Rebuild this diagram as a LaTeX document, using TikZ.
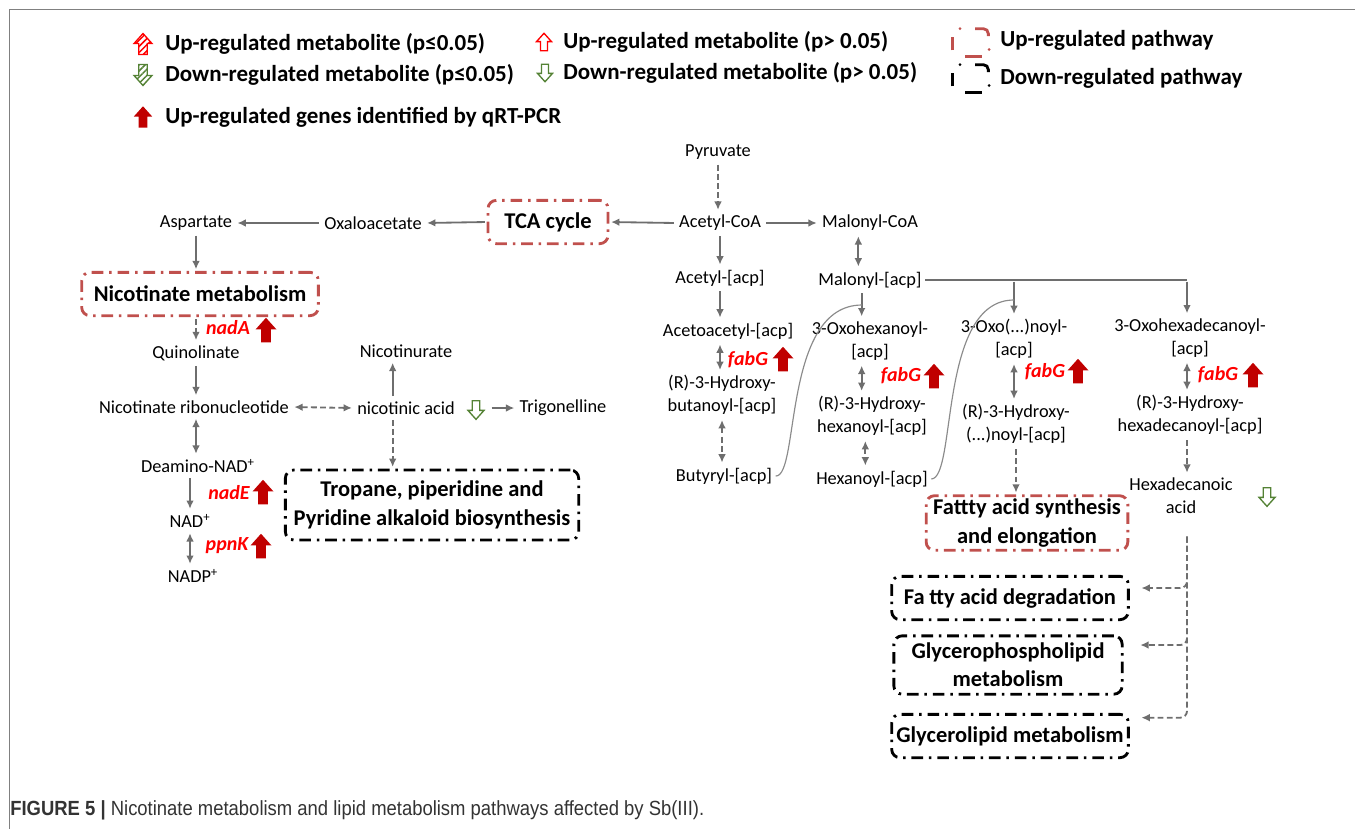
\documentclass[tikz,border=0pt]{standalone}
\usepackage{fontspec}
\setmainfont{Carlito}
\newfontfamily\capfont[FakeStretch=0.9]{Liberation Sans}
\usepackage{tikz}
\usetikzlibrary{arrows.meta,patterns.meta}
\definecolor{pathred}  {HTML}{C0504D}
\definecolor{genered}  {HTML}{C00000}
\definecolor{upred}    {HTML}{FF0000}
\definecolor{downgreen}{HTML}{548235}
\definecolor{arrgray}  {HTML}{6E6E6E}
\definecolor{capgray}  {HTML}{333333}
\tikzset{ % Styles for the pathway map
met/.style={font=\fontsize{11}{13.8}\selectfont, inner sep=2pt, align=center},
legtext/.style={anchor=west, font=\bfseries\fontsize{13.8}{16}\selectfont, inner sep=0pt},
upbox/.style={draw=pathred, line width=1.7pt, dash pattern=on 7pt off 3.5pt on 1.5pt off 3.5pt, rounded corners=5pt, font=\bfseries\fontsize{13.5}{17}\selectfont, align=center, inner sep=2pt},
downbox/.style={upbox, draw=black},
conn/.style={draw=arrgray, line width=1.1pt, -{Latex[length=5pt,width=4.6pt]}, shorten <=1pt, shorten >=1pt},
dconn/.style={conn, dash pattern=on 3.5pt off 2pt},
biconn/.style={conn, {Latex[length=5pt,width=4.6pt]}-{Latex[length=5pt,width=4.6pt]}},
dbiconn/.style={biconn, dash pattern=on 3.5pt off 2pt},
branch/.style={draw=arrgray, line width=1.1pt},
curve/.style={draw=arrgray!80, line width=0.7pt},
gene/.style={text=upred, font=\bfseries\itshape\fontsize{12}{14}\selectfont, inner sep=1pt},
hatch/.style={pattern={Lines[angle=45,distance=2.6pt,line width=0.9pt]}},
blockup/.pic={\path[pic actions] (-2.8pt,-7pt) -- (-2.8pt,0.3pt) -- (-6pt,0.3pt) -- (0pt,7pt) -- (6pt,0.3pt) -- (2.8pt,0.3pt) -- (2.8pt,-7pt) -- cycle;},
pathicon/.pic={
  \draw[line width=1.7pt] (-10.5pt,-5pt) -- (-10.5pt,3pt);
  \fill (-6pt,8pt) circle (0.9pt);
  \draw[line width=1.7pt, rounded corners=3pt] (3pt,8pt) -- (11pt,8pt) -- (11pt,3.5pt);
  \fill (11.5pt,-4.5pt) circle (0.9pt);
  \draw[line width=1.7pt] (-3pt,-8.5pt) -- (7pt,-8.5pt);
},
}

\begin{document}
\begin{tikzpicture}[x=0.6pt, y=-0.6pt]
\useasboundingbox (0,0) rectangle (1355,829);
\draw[gray, line width=0.6pt] (1355,9) -- (9,9) -- (9,829);

% legend
\pic[draw=upred, line width=0.8pt, hatch, pattern color=upred, scale=0.9] at (143,44) {blockup};
\node[legtext] (legupsig) at (165,44) {Up-regulated metabolite (p≤0.05)};
\pic[draw=downgreen, line width=0.8pt, hatch, pattern color=downgreen, scale=0.9, rotate=180] at (143,75) {blockup};
\node[legtext] (legdownsig) at (165,75) {Down-regulated metabolite (p≤0.05)};
\pic[fill=genered, scale=0.92] at (143,117) {blockup};
\node[legtext] (leggene) at (165,117) {Up-regulated genes identified by qRT-PCR};
\pic[draw=upred, fill=white, line width=0.8pt, scale=0.75] at (544,42) {blockup};
\node[legtext] (legup) at (563,42) {Up-regulated metabolite (p> 0.05)};
\pic[draw=downgreen, fill=white, line width=0.8pt, scale=0.75, rotate=180] at (545,73) {blockup};
\node[legtext] (legdown) at (563,73) {Down-regulated metabolite (p> 0.05)};
\pic[color=pathred] at (970,42) {pathicon};
\node[legtext] (leguppath) at (1000,40) {Up-regulated pathway};
\pic[color=black] at (970,78) {pathicon};
\node[legtext] (legdownpath) at (1000,78) {Down-regulated pathway};

% nicotinate branch
\node[met] (pyruvate) at (718,152) {Pyruvate};
\node[met] (acetylcoa) at (720,223) {Acetyl-CoA};
\node[met] (malonylcoa) at (870,223) {Malonyl-CoA};
\node[upbox, minimum width=72pt, minimum height=26pt] (tca) at (548,222) {TCA cycle};
\node[met] (oxalo) at (373,223) {Oxaloacetate};
\node[met] (aspartate) at (196,223) {Aspartate};
\node[upbox, minimum width=142pt, minimum height=26pt] (nicmet) at (200,294) {Nicotinate metabolism};
\node[met] (quinol) at (196,353) {Quinolinate};
\node[met] (nicrib) at (194,407) {Nicotinate ribonucleotide};
\node[met] (deamino) at (198,466) {Deamino-NAD\textsuperscript{+}};
\node[met] (nad) at (190,521) {NAD\textsuperscript{+}};
\node[met] (nadp) at (193,576) {NADP\textsuperscript{+}};
\node[met] (nicurate) at (406,351) {Nicotinurate};
\node[met] (nicacid) at (406,408) {nicotinic acid};
\node[met] (trigon) at (563,408) {Trigonelline};
\node[downbox, minimum width=176pt, minimum height=42pt] (tropane) at (432,505) {Tropane, piperidine and\\Pyridine alkaloid biosynthesis};
\pic[draw=downgreen, fill=white, line width=0.8pt, scale=0.8, rotate=180] at (476,410) {blockup};

\node[gene] (nada) at (228,328) {nadA};
\pic[fill=genered, scale=1.05] at (266,330) {blockup};
\node[gene] (nade) at (229,493) {nadE};
\pic[fill=genered, scale=1.05] at (263,492) {blockup};
\node[gene] (ppnk) at (227,546) {ppnK};
\pic[fill=genered, scale=1.05] at (261,546) {blockup};

% fatty acid branch
\node[met] (acetylacp) at (720,278) {Acetyl-[acp]};
\node[met] (malonylacp) at (870,280) {Malonyl-[acp]};
\node[met] (acetoacetyl) at (728,331) {Acetoacetyl-[acp]};
\node[met] (oxohex) at (870,341) {3-Oxohexanoyl-\\{}[acp]};
\node[met] (hydbut) at (722,395) {(R)-3-Hydroxy-\\butanoyl-[acp]};
\node[met] (hydhex) at (872,416) {(R)-3-Hydroxy-\\hexanoyl-[acp]};
\node[met] (butyryl) at (724,476) {Butyryl-[acp]};
\node[met] (hexanoyl) at (872,479) {Hexanoyl-[acp]};
\node[met] (oxon) at (1014,339) {3-Oxo(...)noyl-\\{}[acp]};
\node[met] (hydn) at (1016,424) {(R)-3-Hydroxy-\\(...)noyl-[acp]};
\node[met] (oxohexadec) at (1190,338) {3-Oxohexadecanoyl-\\{}[acp]};
\node[met] (hydhexadec) at (1190,415) {(R)-3-Hydroxy-\\hexadecanoyl-[acp]};
\node[met] (hexadec) at (1181,496) {Hexadecanoic\\acid};
\pic[draw=downgreen, fill=white, line width=0.8pt, scale=0.8, rotate=180] at (1267,497) {blockup};

\node[gene] (fabga) at (748,360) {fabG};
\pic[fill=genered, scale=1.05] at (783,359) {blockup};
\node[gene] (fabgb) at (901,376) {fabG};
\pic[fill=genered, scale=1.05] at (934,376) {blockup};
\node[gene] (fabgc) at (1045,372) {fabG};
\pic[fill=genered, scale=1.05] at (1078,371) {blockup};
\node[gene] (fabgd) at (1218,375) {fabG};
\pic[fill=genered, scale=1.05] at (1253,375) {blockup};

\node[upbox, minimum width=121pt, minimum height=32pt] (fas) at (1027,523) {Fattty acid synthesis\\and elongation};
\node[downbox, minimum width=142pt, minimum height=26pt] (fadeg) at (1010,598) {Fa\hspace{0.2em}tty acid degradation};
\node[downbox, minimum width=137pt, minimum height=35pt] (glyphos) at (1008,665) {Glycerophospholipid\\metabolism};
\node[downbox, minimum width=142pt, minimum height=26pt] (glylip) at (1010,736) {Glycerolipid metabolism};

\coordinate (branchM) at (1014,280);
\coordinate (branchR) at (1187,280);
\coordinate (joinA) at (862,305);
\coordinate (joinB) at (1014,300);
\coordinate (trunk) at (1187,535);

% connectors
\draw[dconn] (pyruvate.south) -- (pyruvate.south |- acetylcoa.north);
\draw[conn] (acetylcoa.west) -- (tca.east);
\draw[conn] (tca.west) -- (oxalo.east);
\draw[conn] (oxalo.west) -- (aspartate.east);
\draw[conn] (aspartate.south) -- (aspartate.south |- nicmet.north);
\draw[conn] (acetylcoa.east) -- (malonylcoa.west);
\draw[biconn] ([xshift=-7pt]malonylcoa.south) -- ([xshift=-7pt]malonylacp.north);

\draw[dconn] (quinol.north |- nicmet.south) -- (quinol.north);
\draw[conn] (quinol.south) -- (quinol.south |- nicrib.north);
\draw[biconn] (quinol.south |- nicrib.south) -- (quinol.south |- deamino.north);
\draw[conn] (nad.north |- deamino.south) -- (nad.north);
\draw[biconn] (nad.south) -- (nad.south |- nadp.north);
\draw[dbiconn] (nicrib.east) -- (nicacid.west);
\draw[conn] ([xshift=-8pt]nicacid.north) -- ([xshift=-8pt]nicacid.north |- nicurate.south);
\draw[conn] ([xshift=19pt]nicacid.east) -- (trigon.west);
\draw[dconn] ([xshift=-8pt]nicacid.south) -- ([xshift=-8pt]nicacid.south |- tropane.north);

\draw[conn] (acetylcoa.south) -- (acetylcoa.south |- acetylacp.north);
\draw[conn] (acetylacp.south) -- (acetylacp.south |- acetoacetyl.north);
\draw[biconn] (acetylacp.south |- acetoacetyl.south) -- (acetylacp.south |- hydbut.north);
\draw[dbiconn] (hydbut.south) -- (hydbut.south |- butyryl.north);
\draw[conn] ([xshift=-5pt]malonylacp.south) -- ([xshift=-5pt]malonylacp.south |- oxohex.north);
\draw[biconn] ([xshift=-5pt]oxohex.south) -- ([xshift=-5pt]oxohex.south |- hydhex.north);
\draw[dbiconn] ([xshift=-4pt]hydhex.south) -- ([xshift=-4pt]hydhex.south |- hexanoyl.north);
\draw[branch] (malonylacp.east) -- (branchR);
\draw[conn] (branchM) -- (branchM |- oxon.north);
\draw[conn] (branchR) -- (branchR |- oxohexadec.north);
\draw[biconn] (oxon.south) -- (oxon.south |- hydn.north);
\draw[dconn] (hydn.south) -- (hydn.south |- fas.north);
\draw[biconn] (branchR |- oxohexadec.south) -- (branchR |- hydhexadec.north);
\draw[dconn] (branchR |- hydhexadec.south) -- (branchR |- hexadec.north);
\draw[curve] (butyryl.east) .. controls (800,477) and (782,305) .. (joinA);
\draw[curve] (hexanoyl.east) .. controls (957,478) and (938,300) .. (joinB);
\draw[dconn, rounded corners=4pt] (trunk) |- ([xshift=6pt,yshift=6pt]fadeg.east);
\draw[dconn, rounded corners=4pt] (trunk) |- ([xshift=9pt,yshift=12pt]glyphos.east);
\draw[dconn, rounded corners=4pt] (trunk) |- ([xshift=6pt,yshift=11pt]glylip.east);

% caption
\node[anchor=west, font=\capfont\fontsize{12.3}{15}\selectfont, text=capgray, inner sep=0pt] (caption) at (10,810) {\textbf{FIGURE 5 |} Nicotinate metabolism and lipid metabolism pathways affected by Sb(III).};
\end{tikzpicture}
\end{document}
